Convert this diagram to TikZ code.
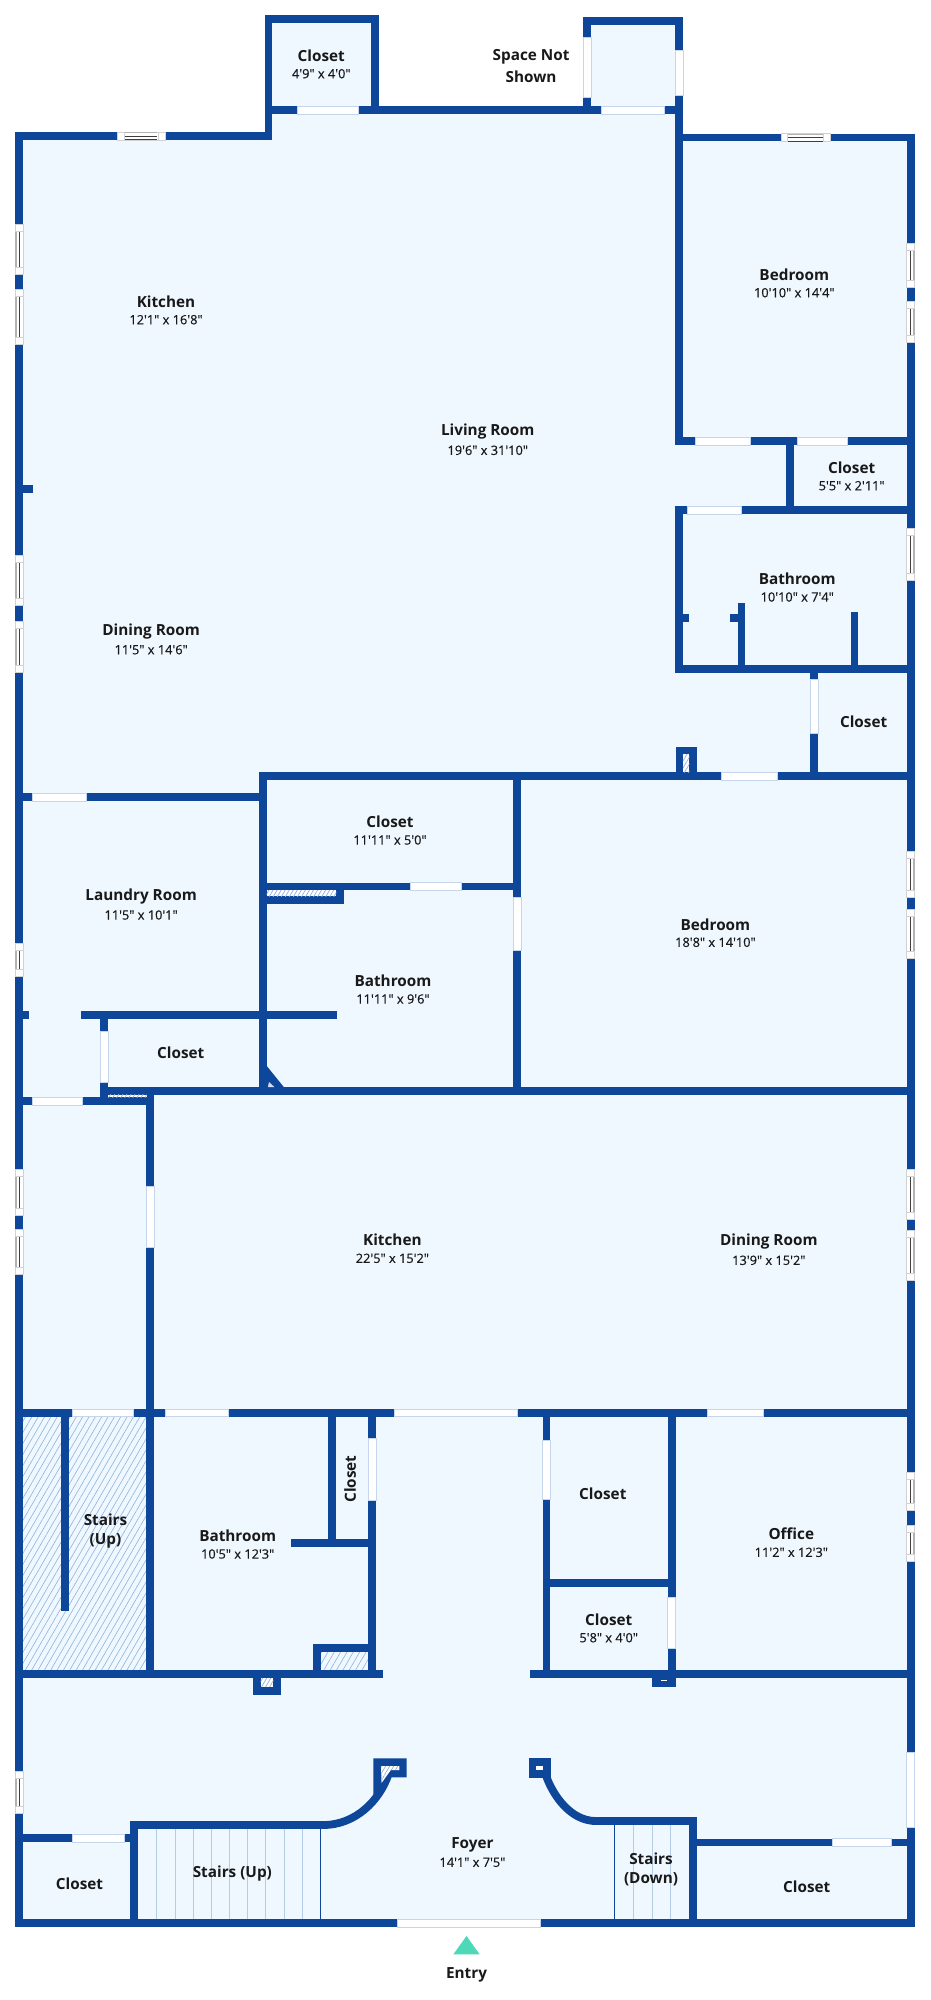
\documentclass[tikz,border=0pt]{standalone}
\usepackage{fontspec}
\usetikzlibrary{patterns.meta}
\newfontfamily\namefont{Open Sans}
\newfontfamily\sizefont{Open Sans}[FakeBold=0.4]
\definecolor{wallblue}{HTML}{0E4699}
\definecolor{floorblue}{HTML}{F0F8FF}
\definecolor{edgeblue}{HTML}{C5D6EC}
\definecolor{hatchblue}{HTML}{8FB0DE}
\definecolor{stairblue}{HTML}{B4CCE6}
\definecolor{entrygreen}{HTML}{4DD9B8}
\tikzset{
    wall/.style={draw=wallblue, line width=7.8pt, line cap=rect, line join=miter},
    wallblock/.style={fill=wallblue},
    doorgap/.style={fill=white, draw=edgeblue, line width=0.6pt},
    windowbox/.style={fill=white, draw=gray!35, line width=0.5pt},
    windowbar/.style={draw=black!75, line width=0.7pt},
    windowedge/.style={draw=gray!60, line width=1.2pt},
    hatched/.style={preaction={fill=floorblue}, pattern={Lines[angle=60, distance=5.5pt, line width=0.6pt]}, pattern color=hatchblue},
    hatchedfine/.style={preaction={fill=white}, pattern={Lines[angle=60, distance=3.5pt, line width=0.7pt]}, pattern color=hatchblue},
    stairline/.style={draw=stairblue, line width=0.8pt},
    roomname/.style={font=\namefont\bfseries\fontsize{15.3}{18}\selectfont, text=black!90, inner sep=0pt},
    roomsize/.style={font=\sizefont\fontsize{12.8}{14}\selectfont, text=black!90, inner sep=0pt}
}
\begin{document}
\begin{tikzpicture}[x=0.9834pt, y=-1pt]
        \useasboundingbox (0,0) rectangle (945.7,2000);

        \fill[floorblue] (19.6,136) -- (273,136) -- (273,19) -- (381,19) -- (381,110) -- (597,110) -- (597,21) -- (690.7,21)
            -- (690.7,137.5) -- (926,137.5) -- (926,1923) -- (19.6,1923) -- cycle;

        \path[hatched] (23.5,1416) rectangle (149,1670.5);
        \path[hatched] (325.5,1651) rectangle (375,1670.5);
        \foreach \xs in {159,178,196.5,215,233,252,270,289,307.4,644,663,682}
            \draw[stairline] (\xs,1825) -- (\xs,1919);
        \draw[draw=wallblue, line width=0.8pt] (326,1825) -- (326,1919);
        \draw[draw=wallblue, line width=0.8pt] (625,1821) -- (625,1919);

        \draw[wall] (19.6,1923) -- (19.6,136) -- (273,136) -- (273,19.3) -- (381,19.3) -- (381,110);
        \draw[wall] (273,110) -- (690.7,110);
        \draw[wall] (597,110) -- (597,21) -- (690.7,21) -- (690.7,441);
        \draw[wall] (690.7,137.5) -- (926,137.5) -- (926,1923) -- (19.6,1923);
        \draw[wall] (690.7,441) -- (926,441);
        \draw[wall] (803.5,441) -- (803.5,510);
        \draw[wall] (926,510) -- (690.7,510) -- (690.7,669) -- (926,669);
        \draw[wall] (690.7,618) -- (696.2,618);
        \draw[wall] (754,618) -- (746.5,618);
        \draw[wall] (754,607) -- (754,669);
        \draw[wall] (869,615.7) -- (869,669);
        \draw[wall] (827.6,669) -- (827.6,776);
        \draw[wall] (19.6,489) -- (30,489);
        \draw[wall] (267.7,776) -- (926,776);
        \draw[wall] (19.6,797) -- (267.7,797);
        \draw[wall] (267.7,776) -- (267.7,1091);
        \draw[wall] (525.7,776) -- (525.7,1091);
        \draw[wall] (267.7,886.5) -- (525.7,886.5);
        \draw[wall] (19.6,1014.7) -- (25.5,1014.7);
        \draw[wall] (86.7,1014.7) -- (338.3,1014.7);
        \draw[wall] (106,1014.7) -- (106,1101);
        \draw[wall] (106,1091) -- (926,1091);
        \draw[wall] (19.6,1101) -- (152.6,1101);
        \draw[wall] (152.6,1091) -- (152.6,1674);
        \draw[wall] (19.6,1412.7) -- (926,1412.7);
        \draw[wall] (66.3,1412.7) -- (66.3,1607.3);
        \draw[wall] (338,1412.7) -- (338,1543);
        \draw[wall] (378.6,1412.7) -- (378.6,1674);
        \draw[wall] (299.7,1543) -- (378.6,1543);
        \draw[wall] (378.6,1648) -- (322,1648) -- (322,1674);
        \draw[wall] (19.6,1674) -- (385.7,1674);
        \draw[wall] (542.7,1674) -- (926,1674);
        \draw[wall] (555.7,1412.7) -- (555.7,1674);
        \draw[wall] (683,1412.7) -- (683,1674);
        \draw[wall] (555.7,1583) -- (683,1583);
        \draw[wall] (19.6,1838) -- (136.5,1838);
        \draw[wall] (136.5,1923) -- (136.5,1825) -- (328.5,1825);
        \draw[wall] (606,1821) -- (704.7,1821) -- (704.7,1923);
        \draw[wall] (704.7,1842.5) -- (926,1842.5);
        \draw[wall, line cap=butt] (394.8,1775) .. controls (386,1800) and (362,1825) .. (328.5,1825);
        \draw[wall, line cap=butt] (555,1775) .. controls (562,1795) and (580,1821) .. (606,1821);

        \fill[wallblock] (687,746.7) rectangle (708.3,776);
        \path[hatchedfine] (694.4,754) rectangle (701,772);
        \fill[wallblock] (271,883) rectangle (349.6,903.7);
        \path[hatchedfine] (271,890.3) rectangle (342,896);
        \path[hatchedfine] (110,1094.5) rectangle (149,1097.3);
        \fill[wallblock] (257.4,1674) rectangle (285.7,1694.7);
        \path[hatchedfine] (265,1678) rectangle (278,1686.7);
        \fill[wallblock] (663,1674) rectangle (687,1686.7);
        \fill[white] (672,1680.3) rectangle (678,1681.3);
        \fill[wallblock] (267.7,1066) -- (271.3,1066) -- (291,1090) -- (267.7,1090) -- cycle;
        \fill[hatchblue!40] (273.5,1082) -- (272.5,1087) -- (279,1087) -- cycle;
        \fill[wallblock] (379.6,1758.3) -- (413.6,1758.3) -- (413.6,1777.3) -- (394.8,1777.3) -- (387,1795) -- (379.6,1795) -- cycle;
        \path[hatchedfine] (387.4,1766) -- (406,1766) -- (406,1770) -- (397.4,1770) -- (388,1783) -- cycle;
        \fill[wallblock] (538,1758.3) rectangle (560,1777.5);
        \fill[white] (545.5,1766) rectangle (552,1770);

        \foreach \xa/\xb/\yc in {302.6/364.7/110, 611/675/110, 707/763/441, 811/862/441, 698.6/753.5/510, 733/790/776,
            32.5/88/797, 417/469/886.5, 33/84/1101, 73.5/136/1412.7, 167.6/232/1412.7, 401.4/526/1412.7,
            719.7/776.4/1412.7, 74/126/1838, 846/906/1842.5, 404.5/549/1923}
            \path[doorgap] (\xa,\yc-3.9) rectangle (\xb,\yc+3.9);
        \foreach \xc/\ya/\yb in {597/37.7/97.7, 690.7/50/95.7, 827.6/679.3/733.3, 525.7/897.7/950.7, 106/1031.7/1082,
            152.6/1186/1247, 378.6/1438.7/1500.7, 555.7/1440.7/1499.7, 683/1597/1648, 926/1752/1827.7}
            \path[doorgap] (\xc-4,\ya) rectangle (\xc+4,\yb);

        \foreach \xc/\ya/\yb/\sg in {19.6/224/274/-1, 19.6/289/344.7/-1, 19.6/555.7/605/-1, 19.6/621.7/672.3/-1, 19.6/943/976/-1,
            19.6/1169.7/1215/-1, 19.6/1229.7/1274.3/-1, 19.6/1771.3/1813/-1, 926/243.7/287.3/1, 926/301/342/1, 926/528/580/1,
            926/851.7/897.3/1, 926/909/958/1, 926/1169.7/1219/1, 926/1230.3/1280.3/1, 926/1472.3/1510.3/1, 926/1525.7/1561.3/1} {
            \path[windowbox] (\xc-4,\ya) rectangle (\xc+4,\yb);
            \draw[windowedge] (\xc+3.4*\sg,\ya+7) -- (\xc+3.4*\sg,\yb-7);
            \draw[windowbar] (\xc,\ya+7.5) -- (\xc,\yb-7.5);
            \draw[windowbox] (\xc-4,\ya+7) -- (\xc+4,\ya+7);
            \draw[windowbox] (\xc-4,\yb-7) -- (\xc+4,\yb-7);
        }
        \foreach \xa/\xb/\yc in {119.3/167.6/136, 794/844.5/137.5} {
            \path[windowbox] (\xa,\yc-3.9) rectangle (\xb,\yc+3.9);
            \draw[windowedge] (\xa+7.5,\yc-3.4) -- (\xb-7.5,\yc-3.4);
            \draw[windowbar] (\xa+7.5,\yc) -- (\xb-7.5,\yc);
            \draw[windowbar] (\xa+7.5,\yc+3.4) -- (\xb-7.5,\yc+3.4);
            \draw[windowbox] (\xa+7,\yc-3.9) -- (\xa+7,\yc+3.9);
            \draw[windowbox] (\xb-7,\yc-3.9) -- (\xb-7,\yc+3.9);
        }

        \node[roomname] (CA) at (326.7,55.3) {Closet};
        \node[roomsize] (CAs) at (326.7,73.7) {4'9" x 4'0"};
        \node[roomname] (SN) at (540,56.3) {Space Not};
        \node[roomname] (SNb) at (540,77) {Shown};
        \node[roomname] (KA) at (168.8,301.3) {Kitchen};
        \node[roomsize] (KAs) at (168.8,319.7) {12'1" x 16'8"};
        \node[roomname] (BA) at (807.7,274.7) {Bedroom};
        \node[roomsize] (BAs) at (807.7,292.7) {10'10" x 14'4"};
        \node[roomname] (LR) at (496,432) {Living Room};
        \node[roomsize] (LRs) at (496,450.3) {19'6" x 31'10"};
        \node[roomname] (CB) at (866,467.3) {Closet};
        \node[roomsize] (CBs) at (866,485.7) {5'5" x 2'11"};
        \node[roomname] (TA) at (810.7,578.7) {Bathroom};
        \node[roomsize] (TAs) at (810.7,597) {10'10" x 7'4"};
        \node[roomname] (DA) at (153.7,631.7) {Dining Room};
        \node[roomsize] (DAs) at (153.7,649.7) {11'5" x 14'6"};
        \node[roomname] (CC) at (878.2,721.7) {Closet};
        \node[roomname] (CD) at (396.6,821.7) {Closet};
        \node[roomsize] (CDs) at (396.6,840) {11'11" x 5'0"};
        \node[roomname] (LY) at (143.5,896.7) {Laundry Room};
        \node[roomsize] (LYs) at (143.5,915) {11'5" x 10'1"};
        \node[roomname] (BB) at (727.5,924.3) {Bedroom};
        \node[roomsize] (BBs) at (727.5,942.3) {18'8" x 14'10"};
        \node[roomname] (TB) at (399.6,980.7) {Bathroom};
        \node[roomsize] (TBs) at (399.6,999) {11'11" x 9'6"};
        \node[roomname] (CE) at (183.8,1053) {Closet};
        \node[roomname] (KB) at (399,1239.7) {Kitchen};
        \node[roomsize] (KBs) at (399,1258.3) {22'5" x 15'2"};
        \node[roomname] (DB) at (781.8,1242) {Dining Room};
        \node[roomsize] (DBs) at (781.8,1260.3) {13'9" x 15'2"};
        \node[roomname] (SA) at (107.3,1520) {Stairs};
        \node[roomname] (SAb) at (107.3,1541) {(Up)};
        \node[roomname] (TC) at (241.7,1536) {Bathroom};
        \node[roomsize] (TCs) at (241.7,1554) {10'5" x 12'3"};
        \node[roomname, rotate=90] (CF) at (356,1479) {Closet};
        \node[roomname] (CG) at (613,1493.3) {Closet};
        \node[roomname] (OF) at (804.7,1534) {Office};
        \node[roomsize] (OFs) at (804.7,1552.3) {11'2" x 12'3"};
        \node[roomname] (CH) at (619,1619.3) {Closet};
        \node[roomsize] (CHs) at (619,1637.7) {5'8" x 4'0"};
        \node[roomname] (FY) at (480.4,1844.7) {Foyer};
        \node[roomsize] (FYs) at (480.4,1862.3) {14'1" x 7'5"};
        \node[roomname] (SB) at (236.3,1873.3) {Stairs (Up)};
        \node[roomname] (SC) at (662,1858.3) {Stairs};
        \node[roomname] (SCb) at (662,1879) {(Down)};
        \node[roomname] (CI) at (80.8,1883.3) {Closet};
        \node[roomname] (CJ) at (820.4,1887) {Closet};

        \fill[entrygreen] (474.4,1936) -- (487.7,1954.3) -- (461,1954.3) -- cycle;
        \node[roomname] (EN) at (474.4,1975) {Entry};
    \end{tikzpicture}
\end{document}
